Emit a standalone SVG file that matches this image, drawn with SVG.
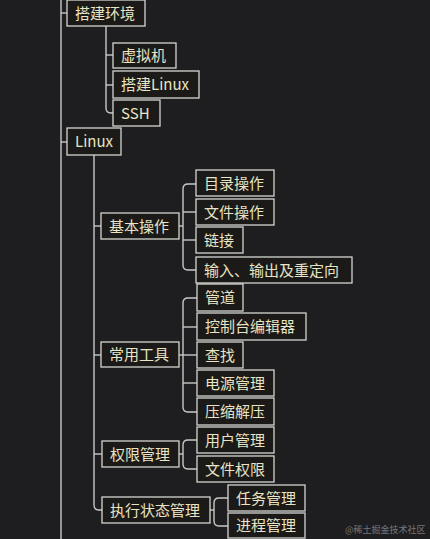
<svg xmlns="http://www.w3.org/2000/svg" width="430" height="539" viewBox="0 0 430 539">
<style>
.bg{fill:#1e1e20}
.n rect{fill:#1b1a19;stroke:#d4d4d0;stroke-width:1.3}
.n text{font-family:"Noto Sans CJK SC","Noto Sans",sans-serif;font-size:15px;fill:#e8e4c4}
.c path{fill:none;stroke:#c8c8c6;stroke-width:1.4}
.wm{font-family:"Noto Sans CJK SC","Noto Sans",sans-serif;font-size:9px;fill:#77777a}
</style>
<rect class="bg" x="0" y="0" width="430" height="539"/>
<g class="c">
<path d="M61,0 V539"/>
<path d="M61,13 H67"/>
<path d="M61,142 H67"/>
<path d="M106,26 V108 Q106,113 111,113 H113"/>
<path d="M106,55 H113"/>
<path d="M106,85 H113"/>
<path d="M94,155 V505 Q94,510 99,510 H102"/>
<path d="M94,226 H101"/>
<path d="M94,355 H101"/>
<path d="M94,454 H102"/>
<path d="M179,226 H183"/>
<path d="M196,184 H188 Q183,184 183,189 V265 Q183,270 188,270 H196"/>
<path d="M183,212 H196"/>
<path d="M183,240 H196"/>
<path d="M179,355 H197"/>
<path d="M197,298 H188 Q183,298 183,303 V407 Q183,412 188,412 H197"/>
<path d="M183,327 H197"/>
<path d="M183,383 H197"/>
<path d="M179,454 H183"/>
<path d="M197,440 H188 Q183,440 183,445 V464 Q183,469 188,469 H197"/>
<path d="M210,510 H214"/>
<path d="M228,498 H219 Q214,498 214,503 V521 Q214,526 219,526 H228"/>
</g>
<g id="n-env" class="n"><rect x="67" y="0" width="78" height="26"/><text x="75" y="19">搭建环境</text></g>
<g id="n-vm" class="n"><rect x="113" y="43" width="63" height="25"/><text x="121" y="61">虚拟机</text></g>
<g id="n-buildlinux" class="n"><rect x="113" y="71" width="86" height="27"/><text x="121" y="90">搭建Linux</text></g>
<g id="n-ssh" class="n"><rect x="113" y="100" width="47" height="26"/><text x="121" y="119">SSH</text></g>
<g id="n-linux" class="n"><rect x="67" y="128" width="54" height="27"/><text x="75" y="147">Linux</text></g>
<g id="n-basic" class="n"><rect x="101" y="213" width="78" height="26"/><text x="109" y="232">基本操作</text></g>
<g id="n-dir" class="n"><rect x="196" y="170" width="78" height="26"/><text x="204" y="189">目录操作</text></g>
<g id="n-file" class="n"><rect x="196" y="199" width="78" height="26"/><text x="204" y="218">文件操作</text></g>
<g id="n-link" class="n"><rect x="196" y="227" width="47" height="26"/><text x="204" y="246">链接</text></g>
<g id="n-io" class="n"><rect x="196" y="257" width="156" height="26"/><text x="204" y="276">输入、输出及重定向</text></g>
<g id="n-tools" class="n"><rect x="101" y="342" width="78" height="25"/><text x="109" y="360">常用工具</text></g>
<g id="n-pipe" class="n"><rect x="197" y="284" width="46" height="27"/><text x="205" y="303">管道</text></g>
<g id="n-editor" class="n"><rect x="197" y="313" width="109" height="27"/><text x="205" y="332">控制台编辑器</text></g>
<g id="n-find" class="n"><rect x="197" y="342" width="46" height="26"/><text x="205" y="361">查找</text></g>
<g id="n-power" class="n"><rect x="197" y="370" width="77" height="26"/><text x="205" y="389">电源管理</text></g>
<g id="n-zip" class="n"><rect x="197" y="398" width="77" height="27"/><text x="205" y="417">压缩解压</text></g>
<g id="n-perm" class="n"><rect x="102" y="441" width="77" height="26"/><text x="110" y="460">权限管理</text></g>
<g id="n-user" class="n"><rect x="197" y="427" width="77" height="26"/><text x="205" y="446">用户管理</text></g>
<g id="n-fileperm" class="n"><rect x="197" y="456" width="77" height="26"/><text x="205" y="475">文件权限</text></g>
<g id="n-exec" class="n"><rect x="102" y="497" width="108" height="26"/><text x="110" y="516">执行状态管理</text></g>
<g id="n-task" class="n"><rect x="228" y="485" width="77" height="26"/><text x="236" y="504">任务管理</text></g>
<g id="n-proc" class="n"><rect x="228" y="513" width="77" height="25"/><text x="236" y="531">进程管理</text></g>
<text class="wm" x="345" y="533">@稀土掘金技术社区</text>
</svg>
